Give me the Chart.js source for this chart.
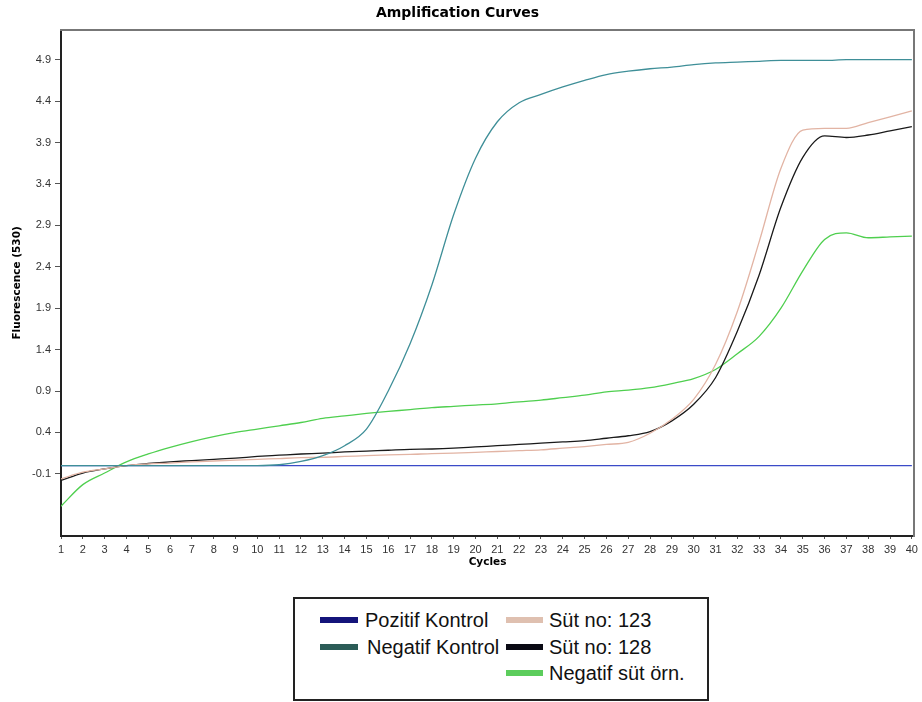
<!DOCTYPE html>
<html>
<head>
<meta charset="utf-8">
<script src="https://cdn.jsdelivr.net/npm/chart.js@4.4.1/dist/chart.umd.min.js"></script>
<style>
  html, body { margin: 0; padding: 0; background: #ffffff; }
  #wrap { position: relative; width: 922px; height: 702px; overflow: hidden; }
  #c { position: absolute; left: 0; top: 0; }
  #legend { position: absolute; left: 293px; top: 597px; width: 412px; height: 100px;
            border: 2px solid #222; background: #fff; font-family: 'Liberation Sans', Arial, sans-serif; }
  .item { position: absolute; height: 26px; line-height: 26px; font-size: 20px; color: #111; white-space: nowrap; }
  .sw { position: absolute; height: 6px; }
</style>
</head>
<body>
<div id="wrap">
  <canvas id="c" width="922" height="702"></canvas>
  <div id="legend"></div>
</div>
<script>
const cycles = [1,2,3,4,5,6,7,8,9,10,11,12,13,14,15,16,17,18,19,20,21,22,23,24,25,26,27,28,29,30,31,32,33,34,35,36,37,38,39,40];
const xTickLabels = ['1','2','3','4','5','6','7','8','9','10','11','12','13','14','15','16','17','18','19','20','21','22','23','24','25','26','27','28','29','30','31','32','33','34','35','36','37','38','39','40'];
const yTickValues = [-0.1, 0.4, 0.9, 1.4, 1.9, 2.4, 2.9, 3.4, 3.9, 4.4, 4.9];
const yTickLabels = ['-0.1','0.4','0.9','1.4','1.9','2.4','2.9','3.4','3.9','4.4','4.9'];

const pozitifKontrol = [0,0,0,0,0,0,0,0,0,0,0,0,0,0,0,0,0,0,0,0,0,0,0,0,0,0,0,0,0,0,0,0,0,0,0,0,0,0,0,0];
const negatifKontrol = [0,0,0,0,0,0,0,0,0,0,0.01,0.05,0.12,0.24,0.44,0.90,1.47,2.18,3.03,3.71,4.15,4.38,4.48,4.57,4.65,4.72,4.76,4.79,4.81,4.84,4.86,4.87,4.88,4.89,4.89,4.89,4.90,4.90,4.90,4.90];
const sut123 = [-0.16,-0.08,-0.04,0.0,0.02,0.03,0.045,0.055,0.065,0.075,0.085,0.095,0.10,0.11,0.12,0.13,0.135,0.145,0.15,0.16,0.17,0.18,0.19,0.21,0.23,0.255,0.28,0.39,0.56,0.80,1.22,1.86,2.70,3.59,4.05,4.07,4.07,4.14,4.21,4.28];
const sut128 = [-0.18,-0.09,-0.04,0.0,0.025,0.045,0.06,0.075,0.09,0.11,0.125,0.14,0.15,0.165,0.175,0.185,0.195,0.20,0.21,0.225,0.24,0.255,0.27,0.285,0.30,0.33,0.36,0.41,0.54,0.74,1.06,1.62,2.30,3.12,3.72,3.98,3.96,3.99,4.04,4.09];
const negatifSut = [-0.49,-0.23,-0.09,0.045,0.14,0.22,0.29,0.35,0.40,0.44,0.48,0.52,0.57,0.60,0.63,0.655,0.675,0.70,0.715,0.73,0.745,0.77,0.79,0.82,0.85,0.89,0.91,0.94,0.99,1.05,1.16,1.35,1.56,1.90,2.35,2.73,2.81,2.75,2.76,2.77];

const seriesNames = ['Pozitif Kontrol','Negatif Kontrol','Süt no: 123','Süt no: 128','Negatif süt örn.'];
const seriesValues = [pozitifKontrol, negatifKontrol, sut123, sut128, negatifSut];
const lineColors = ['#3b4bc8','#3f8f98','#e2b4a4','#1a1a1a','#4fcf4f'];
const swatchColors = ['#14147a','#2b5c57','#dfc0b0','#0a0a14','#5ccd5c'];
const drawOrder = [5,1,2,3,4];

const datasets = seriesNames.map((name, i) => ({
  label: name,
  data: cycles.map((c, j) => ({x: c, y: seriesValues[i][j]})),
  borderColor: lineColors[i],
  backgroundColor: lineColors[i],
  borderWidth: 1.3,
  pointRadius: 0,
  fill: false,
  cubicInterpolationMode: 'monotone',
  order: drawOrder[i]
}));

const tickFont = {family: "'Liberation Sans', Arial, sans-serif", size: 11};
const boldFont = {family: "'DejaVu Sans', sans-serif", size: 10.5, weight: 'bold'};

new Chart(document.getElementById('c'), {
  type: 'line',
  data: {datasets},
  options: {
    responsive: false,
    animation: false,
    devicePixelRatio: 1,
    layout: {padding: {left: 0, right: 7, top: 0, bottom: 130}},
    plugins: {
      legend: {display: false},
      tooltip: {enabled: false},
      title: {
        display: true,
        text: 'Amplification Curves',
        color: '#000',
        font: {family: "'DejaVu Sans', sans-serif", size: 14, weight: 'bold'},
        padding: {top: 5, bottom: 8}
      }
    },
    scales: {
      x: {
        type: 'linear',
        min: 1, max: 40.1,
        afterBuildTicks: s => { s.ticks = cycles.map(v => ({value: v})); },
        afterFit: s => { s.height = 36; },
        ticks: {
          autoSkip: false, maxRotation: 0, padding: 4, color: '#333', font: tickFont,
          callback: (v, i) => xTickLabels[i]
        },
        grid: {display: true, drawOnChartArea: false, tickLength: 3, color: '#555'},
        border: {display: true, color: '#222', width: 2},
        title: {display: true, text: 'Cycles', color: '#000', font: boldFont, padding: {top: 0, bottom: 3}}
      },
      y: {
        type: 'linear',
        min: -0.85, max: 5.26,
        afterBuildTicks: s => { s.ticks = yTickValues.map(v => ({value: v})); },
        afterFit: s => { s.width = 61; },
        ticks: {
          padding: 4, color: '#333', font: tickFont,
          callback: (v, i) => yTickLabels[i]
        },
        grid: {display: true, drawOnChartArea: false, tickLength: 6, color: '#555'},
        border: {display: true, color: '#222', width: 2},
        title: {display: true, text: 'Fluorescence (530)', color: '#000', font: boldFont, padding: {top: 11, bottom: 0}}
      },
      xTop: {
        type: 'linear', position: 'top', display: true,
        afterFit: s => { s.height = 0; },
        ticks: {display: false},
        grid: {display: false},
        border: {display: true, color: '#777', width: 2}
      },
      yRight: {
        type: 'linear', position: 'right', display: true,
        afterFit: s => { s.width = 0; },
        ticks: {display: false},
        grid: {display: false},
        border: {display: true, color: '#777', width: 2}
      }
    }
  }
});

// HTML legend built from the series arrays
const legendPos = [
  {sx: 25, sw: 38, tx: 70, row: 0},
  {sx: 25, sw: 38, tx: 72, row: 1},
  {sx: 211, sw: 37, tx: 254, row: 0},
  {sx: 211, sw: 37, tx: 254, row: 1},
  {sx: 211, sw: 37, tx: 254, row: 2}
];
const rowTops = [8, 35, 61];
const leg = document.getElementById('legend');
seriesNames.forEach((name, i) => {
  const p = legendPos[i];
  const sw = document.createElement('div');
  sw.className = 'sw';
  sw.style.left = p.sx + 'px';
  sw.style.width = p.sw + 'px';
  sw.style.top = (rowTops[p.row] + 10) + 'px';
  sw.style.background = swatchColors[i];
  leg.appendChild(sw);
  const t = document.createElement('div');
  t.className = 'item';
  t.style.left = p.tx + 'px';
  t.style.top = rowTops[p.row] + 'px';
  t.textContent = name;
  leg.appendChild(t);
});
</script>
</body>
</html>
